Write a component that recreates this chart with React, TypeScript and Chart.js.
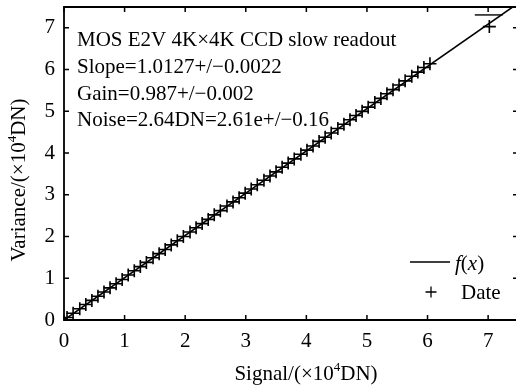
import { useEffect, useRef } from "react";
import { Chart, registerables } from "chart.js";

Chart.register(...registerables);

const signalX = [
  0.05, 0.15, 0.26, 0.36, 0.46, 0.56, 0.66, 0.76, 0.86, 0.96,
  1.06, 1.16, 1.26, 1.36, 1.47, 1.57, 1.67, 1.77, 1.87, 1.97,
  2.08, 2.18, 2.28, 2.38, 2.48, 2.58, 2.69, 2.79, 2.89, 2.99,
  3.09, 3.19, 3.3, 3.4, 3.5, 3.6, 3.7, 3.8, 3.91, 4.01,
  4.11, 4.21, 4.31, 4.41, 4.52, 4.62, 4.72, 4.82, 4.92, 5.02,
  5.13, 5.23, 5.33, 5.43, 5.53, 5.63, 5.74, 5.84, 5.94, 6.04,
  7.02,
];
const varianceY = [
  0.06, 0.16, 0.27, 0.37, 0.47, 0.57, 0.67, 0.77, 0.87, 0.97,
  1.08, 1.18, 1.28, 1.38, 1.49, 1.59, 1.69, 1.8, 1.9, 2.0,
  2.11, 2.21, 2.31, 2.41, 2.52, 2.62, 2.73, 2.83, 2.93, 3.04,
  3.14, 3.24, 3.35, 3.45, 3.55, 3.66, 3.76, 3.86, 3.97, 4.07,
  4.17, 4.28, 4.38, 4.48, 4.59, 4.69, 4.8, 4.9, 5.0, 5.1,
  5.21, 5.31, 5.42, 5.52, 5.63, 5.73, 5.84, 5.94, 6.05, 6.14,
  7.03,
];
const capX = [6.78, 7.24];
const capY = [7.31, 7.31];
const fitSlope = 1.0127;
const fitX = [0, 7.46];
const xTickValues = [0, 1, 2, 3, 4, 5, 6, 7];
const yTickValues = [0, 1, 2, 3, 4, 5, 6, 7];
const notes = [
  "MOS E2V 4K×4K CCD slow readout",
  "Slope=1.0127+/−0.0022",
  "Gain=0.987+/−0.002",
  "Noise=2.64DN=2.61e+/−0.16",
];

const SERIF = "'Liberation Serif', 'Times New Roman', serif";
const FS = 21;

type Seg = { t: string; font: string; dy?: number };

function drawRich(ctx: CanvasRenderingContext2D, segs: Seg[], x: number, y: number, align: "left" | "center") {
  let total = 0;
  for (const s of segs) {
    ctx.font = s.font;
    total += ctx.measureText(s.t).width;
  }
  let cx = align === "center" ? x - total / 2 : x;
  for (const s of segs) {
    ctx.font = s.font;
    ctx.fillText(s.t, cx, y + (s.dy || 0));
    cx += ctx.measureText(s.t).width;
  }
}

const framePlugin = {
  id: "framePlugin",
  afterDraw(chart: any) {
    const ctx: CanvasRenderingContext2D = chart.ctx;
    const { left, right, top, bottom } = chart.chartArea;
    const xs = chart.scales.x;
    const ys = chart.scales.y;
    ctx.save();
    ctx.strokeStyle = "#000";
    ctx.fillStyle = "#000";
    ctx.lineWidth = 1.8;
    ctx.beginPath();
    ctx.moveTo(right + 2, top);
    ctx.lineTo(left, top);
    ctx.lineTo(left, bottom);
    ctx.lineTo(right + 2, bottom);
    ctx.stroke();
    const tl = 5;
    ctx.lineWidth = 1.5;
    ctx.beginPath();
    for (const t of xs.ticks) {
      const px = xs.getPixelForValue(t.value);
      ctx.moveTo(px, bottom);
      ctx.lineTo(px, bottom - tl);
      ctx.moveTo(px, top);
      ctx.lineTo(px, top + tl);
    }
    for (const t of ys.ticks) {
      const py = ys.getPixelForValue(t.value);
      ctx.moveTo(left, py);
      ctx.lineTo(left + tl, py);
      ctx.moveTo(right + 2, py);
      ctx.lineTo(right - 3, py);
    }
    ctx.stroke();

    const f = `${FS}px ${SERIF}`;
    const fsup = `${Math.round(FS * 0.6)}px ${SERIF}`;
    const fi = `italic ${FS}px ${SERIF}`;
    ctx.textBaseline = "alphabetic";
    ctx.textAlign = "left";
    // annotations
    const baseY = [46, 73, 100, 126];
    notes.forEach((n, i) => {
      ctx.font = f;
      ctx.fillText(n, 77, baseY[i]);
    });
    // legend
    ctx.lineWidth = 1.3;
    ctx.beginPath();
    ctx.moveTo(410, 262);
    ctx.lineTo(450, 262);
    ctx.stroke();
    drawRich(ctx, [
      { t: "f", font: fi },
      { t: "(", font: f },
      { t: "x", font: fi },
      { t: ")", font: f },
    ], 455, 270, "left");
    ctx.beginPath();
    ctx.moveTo(425.5, 292);
    ctx.lineTo(436.5, 292);
    ctx.moveTo(431, 286.5);
    ctx.lineTo(431, 297.5);
    ctx.stroke();
    ctx.font = f;
    ctx.fillText("Date", 461, 299);

    // axis titles
    drawRich(ctx, [
      { t: "Signal/(×10", font: f },
      { t: "4", font: fsup, dy: -9 },
      { t: "DN)", font: f },
    ], 306, 380, "center");
    ctx.save();
    ctx.translate(25, 180);
    ctx.rotate(-Math.PI / 2);
    drawRich(ctx, [
      { t: "Variance/(×10", font: f },
      { t: "4", font: fsup, dy: -9 },
      { t: "DN)", font: f },
    ], 0, 0, "center");
    ctx.restore();
    ctx.restore();
  },
};

export default function App() {
  const ref = useRef<HTMLCanvasElement | null>(null);
  useEffect(() => {
    document.body.style.margin = "0";
    const canvas = ref.current;
    if (!canvas) return;
    const points = signalX.map((x, i) => ({ x, y: varianceY[i] }));
    const fit = fitX.map((x) => ({ x, y: fitSlope * x }));
    const cap = capX.map((x, i) => ({ x, y: capY[i] }));
    const chart = new Chart(canvas, {
      type: "scatter",
      data: {
        datasets: [
          {
            label: "f(x)",
            data: fit,
            showLine: true,
            borderColor: "#000",
            borderWidth: 1.6,
            pointRadius: 0,
          },
          {
            label: "Date",
            data: points,
            showLine: false,
            pointStyle: "cross",
            pointRadius: 6.5,
            borderColor: "#000",
            backgroundColor: "#000",
            borderWidth: 1.6,
          },
          {
            label: "cap",
            data: cap,
            showLine: true,
            borderColor: "#000",
            borderWidth: 1.4,
            pointRadius: 0,
          },
        ],
      },
      options: {
        responsive: false,
        animation: false,
        devicePixelRatio: 1,
        layout: { autoPadding: false, padding: { top: 7, right: 0, left: 0, bottom: 0 } },
        plugins: { legend: { display: false }, tooltip: { enabled: false } },
        scales: {
          x: {
            type: "linear",
            min: 0,
            max: 7.46,
            afterBuildTicks: (s: any) => { s.ticks = xTickValues.map((v) => ({ value: v })); },
            afterFit: (s: any) => {
              s.height = 68;
              s.paddingLeft = 0;
              s.paddingRight = 0;
            },
            grid: { display: false, drawTicks: false },
            border: { display: false },
            ticks: {
              autoSkip: false,
              maxRotation: 0,
              padding: 9,
              color: "#000",
              font: { family: SERIF, size: FS },
            },
          },
          y: {
            type: "linear",
            min: 0,
            max: 7.5,
            afterBuildTicks: (s: any) => { s.ticks = yTickValues.map((v) => ({ value: v })); },
            afterFit: (s: any) => {
              s.width = 64;
              s.paddingTop = 0;
              s.paddingBottom = 0;
            },
            grid: { display: false, drawTicks: false },
            border: { display: false },
            ticks: {
              autoSkip: false,
              padding: 9,
              color: "#000",
              font: { family: SERIF, size: FS },
            },
          },
        },
      },
      plugins: [framePlugin],
    } as any);
    return () => chart.destroy();
  }, []);
  return (
    <div style={{ position: "absolute", left: 0, top: 0, width: 516, height: 388, background: "#fff" }}>
      <canvas ref={ref} width={516} height={388} style={{ display: "block" }} />
    </div>
  );
}
